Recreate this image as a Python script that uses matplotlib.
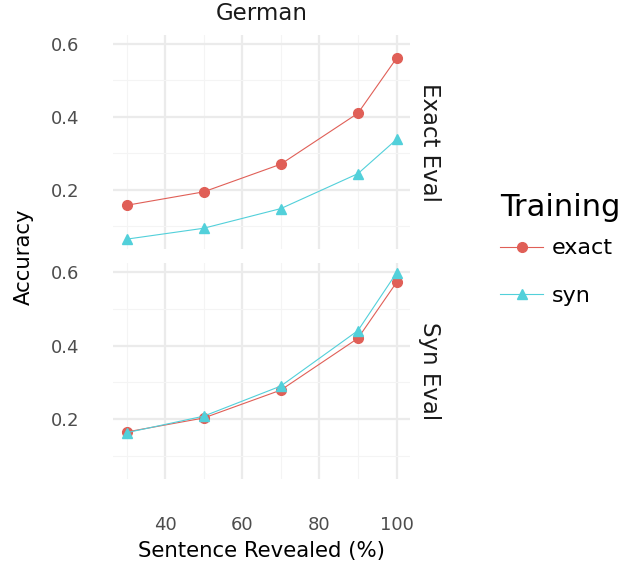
import matplotlib
matplotlib.use("Agg")
import matplotlib.pyplot as plt

# data
revealed = [30, 50, 70, 90, 100]
panels = ["Exact Eval", "Syn Eval"]
exact_train = {
    "Exact Eval": [0.157, 0.194, 0.270, 0.410, 0.561],
    "Syn Eval": [0.165, 0.203, 0.279, 0.420, 0.572],
}
syn_train = {
    "Exact Eval": [0.064, 0.094, 0.148, 0.244, 0.338],
    "Syn Eval": [0.163, 0.208, 0.290, 0.441, 0.598],
}

RED = "#E05F57"
CYAN = "#52D0DA"
GRID = "#EBEBEB"
TXT = "#4D4D4D"

W, H = 635, 570
fig = plt.figure(figsize=(W / 100, H / 100), dpi=100)

def px_axes(left, top, right, bottom):
    return fig.add_axes([left / W, 1 - bottom / H, (right - left) / W, (bottom - top) / H])

boxes = [(113, 35, 410, 249), (113, 263, 410, 479)]
axes = []
for i, (name, box) in enumerate(zip(panels, boxes)):
    ax = px_axes(*box)
    axes.append(ax)
    ax.set_xlim(26.5, 103.5)
    ax.set_ylim(0.037, 0.625)
    ax.set_xticks([40, 60, 80, 100])
    ax.set_xticks([30, 50, 70, 90], minor=True)
    ax.set_yticks([0.2, 0.4, 0.6])
    ax.set_yticks([0.1, 0.3, 0.5], minor=True)
    ax.grid(True, which="major", color=GRID, lw=1.6, zorder=0)
    ax.grid(True, which="minor", color="#F4F4F4", lw=0.8, zorder=0)
    ax.set_axisbelow(True)
    for s in ax.spines.values():
        s.set_visible(False)
    ax.tick_params(which="both", length=0)
    ax.tick_params(axis="y", labelsize=13, labelcolor=TXT, pad=24)
    ax.tick_params(axis="x", labelsize=13, labelcolor=TXT, pad=27)
    ax.set_yticklabels(["0.2", "0.4", "0.6"])
    if i == 0:
        ax.set_xticklabels([])
    ax.plot(revealed, exact_train[name], color=RED, lw=0.8, marker="o", ms=7,
            label="exact", zorder=3)
    ax.plot(revealed, syn_train[name], color=CYAN, lw=0.8, marker="^", ms=7.5,
            label="syn", zorder=3)
    ax.text(1.065, 0.5, name, transform=ax.transAxes, rotation=270,
            ha="center", va="center", fontsize=16.5, color="#1A1A1A")

fig.text(261.5 / W, 1 - 14 / H, "German", ha="center", va="center",
         fontsize=16.5, color="#1A1A1A")
fig.text(261.5 / W, 1 - 551 / H, "Sentence Revealed (%)", ha="center",
         va="center", fontsize=15.3, color="black")
fig.text(24 / W, 1 - 257 / H, "Accuracy", ha="center", va="center",
         rotation=90, fontsize=15.3, color="black")

# legend: title as its own text, entries below it
fig.text(500 / W, 1 - 208 / H, "Training", ha="left", va="center",
         fontsize=22, color="black")
handles, labels = axes[0].get_legend_handles_labels()
fig.legend(handles, labels, loc="center left",
           bbox_to_anchor=(500 / W, 1 - 272 / H), frameon=False,
           fontsize=16, handlelength=1.95, labelspacing=1.23,
           handletextpad=0.36, borderaxespad=0, borderpad=0)

fig.savefig("out.png", dpi=100)
